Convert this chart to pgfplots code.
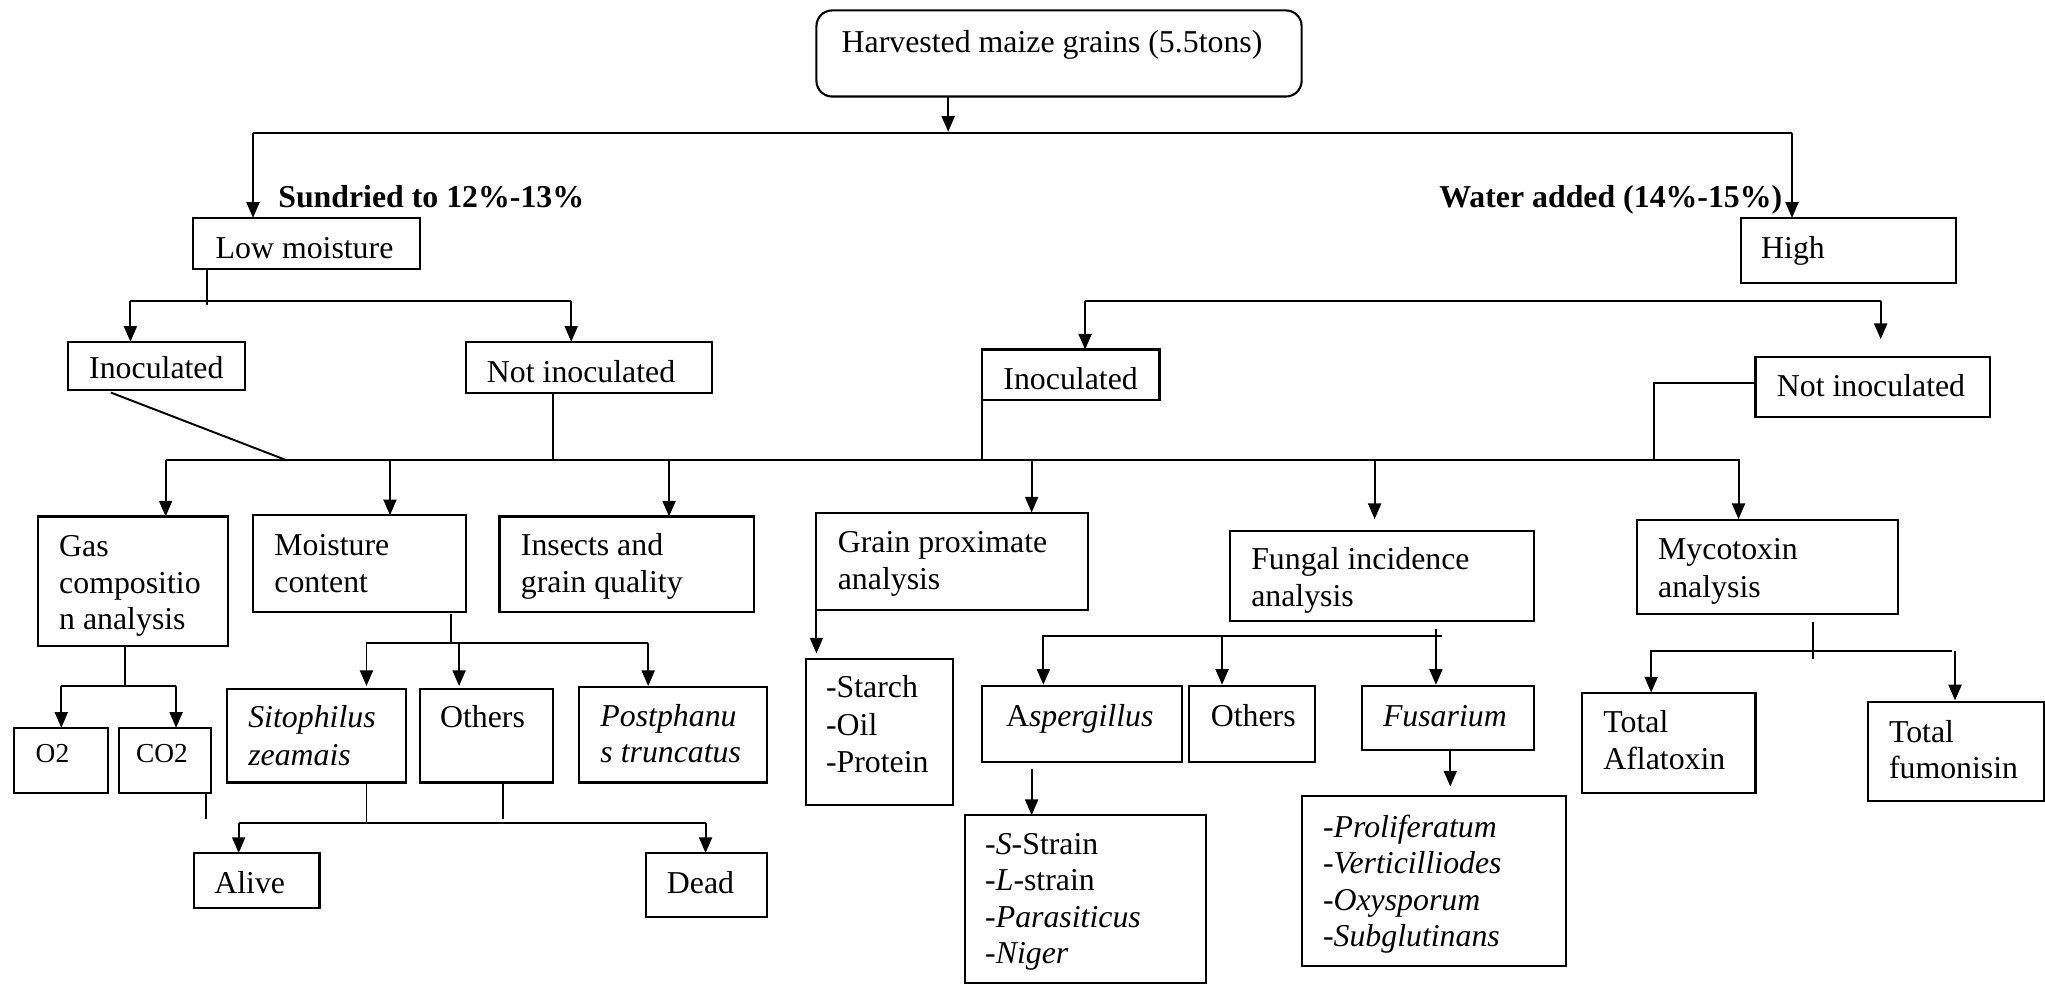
\documentclass[border=0pt]{standalone}
\usepackage{fontspec}
\setmainfont{Liberation Serif}
\usepackage{pgfplots}
\pgfplotsset{compat=1.18}
\usetikzlibrary{arrows.meta}
\newcommand{\bx}[4]{\draw[bxs] (#1,#2) rectangle (#3,#4);}
\newcommand{\tx}[3]{\node[t] at (#1,#2) {#3};}
\begin{document}
\begin{tikzpicture}[
  ln/.style={line width=0.75pt},
  ar/.style={line width=0.75pt,-{Triangle[length=6pt,width=5pt]}},
  bxs/.style={line width=0.8pt},
  t/.style={anchor=base west,inner sep=0pt,font=\fontsize{12.2}{14}\selectfont},
]
\begin{axis}[width=784pt,height=377.5pt,scale only axis,
  xmin=0,xmax=1568,ymin=0,ymax=755,y dir=reverse,
  axis lines=none,clip=false]
\addplot[draw=none] coordinates {(0,0) (1568,755)};
% top
\draw[bxs,rounded corners=6pt] (626,8) rectangle (998,74);
\tx{645}{40}{Harvested maize grains (5.5tons)}
\draw[ar] (727,74) -- (727,101);
\draw[ln] (194,102) -- (1374,102);
\draw[ar] (194,102) -- (194,167);
\draw[ar] (1374,102) -- (1374,167);
\node[t,font=\fontsize{12.2}{14}\selectfont\bfseries] at (213,159) {Sundried to 12\%-13\%};
\node[t,anchor=base east,font=\fontsize{12.2}{14}\selectfont\bfseries] at (1367,159) {Water added (14\%-15\%)};
% level 2
\bx{148}{167}{322}{206} \tx{165}{198}{Low moisture}
\bx{1335}{167}{1500}{217} \tx{1350}{198}{High}
\draw[ln] (159,206) -- (159,234);
\draw[ln] (100,231) -- (438,231);
\draw[ar] (100,231) -- (100,262);
\draw[ar] (438,231) -- (438,262);
\bx{52}{262}{188}{299} \tx{68}{290}{Inoculated}
\bx{357}{262}{546}{301} \tx{373}{293}{Not inoculated}
\draw[ln] (832,231) -- (1442,231);
\draw[ar] (832,231) -- (832,268);
\draw[ar] (1442,231) -- (1442,260);
\bx{753}{268}{889}{307} \tx{769}{299}{Inoculated}
\bx{1346}{274}{1526}{320} \tx{1362}{304}{Not inoculated}
\draw[ln] (1346,294) -- (1268,294) -- (1268,353);
\draw[ln] (753,307) -- (753,353);
\draw[ln] (85,301) -- (220,353);
\draw[ln] (424,301) -- (424,353);
\draw[ln] (127,353) -- (1334,353);
\draw[ar] (127,353) -- (127,396);
\draw[ar] (299,353) -- (299,395);
\draw[ar] (513,353) -- (513,396);
\draw[ar] (791,353) -- (791,393);
\draw[ar] (1054,353) -- (1054,398);
\draw[ar] (1333,353) -- (1333,398);
% level 3
\bx{29}{396}{175}{495} \tx{45}{427}{Gas} \tx{45}{455}{compositio} \tx{45}{483}{n analysis}
\bx{194}{395}{357}{469} \tx{210}{426}{Moisture} \tx{210}{454}{content}
\bx{383}{396}{578}{469} \tx{399}{426}{Insects and} \tx{399}{454}{grain quality}
\bx{626}{393}{834}{468} \tx{642}{424}{Grain proximate} \tx{642}{452}{analysis}
\bx{943}{407}{1176}{476} \tx{959}{437}{Fungal incidence} \tx{959}{465}{analysis}
\bx{1255}{399}{1455}{471} \tx{1271}{429}{Mycotoxin} \tx{1271}{458}{analysis}
% gas
\draw[ln] (96,495) -- (96,526);
\draw[ln] (47,526) -- (135,526);
\draw[ar] (47,526) -- (47,558);
\draw[ar] (135,526) -- (135,558);
\bx{11}{558}{83}{608} \node[t,font=\fontsize{10.5}{12}\selectfont] at (27,585) {O2};
\bx{91}{558}{162}{608} \node[t,font=\fontsize{10.5}{12}\selectfont] at (104,585) {CO2};
\draw[ln] (158,608) -- (158,628);
% moisture
\draw[ln] (346,471) -- (346,493);
\draw[ln] (281,493) -- (497,493);
\draw[ar] (281,493) -- (281,526);
\draw[ar] (352,493) -- (352,526);
\draw[ar] (497,493) -- (497,526);
\bx{174}{528}{311}{600} \tx{190}{558}{\textit{Sitophilus}} \tx{190}{587}{\textit{zeamais}}
\bx{322}{528}{424}{600} \tx{337}{558}{Others}
\bx{444}{527}{588}{600} \tx{460}{557}{\textit{Postphanu}} \tx{460}{585}{\textit{s truncatus}}
\draw[ln] (281,600) -- (281,631);
\draw[ln] (386,600) -- (386,628);
\draw[ln] (183,631) -- (541,631);
\draw[ar] (183,631) -- (183,654);
\draw[ar] (541,631) -- (541,654);
\bx{149}{654}{245}{696} \tx{164}{685}{Alive}
\bx{495}{654}{588}{703} \tx{511}{685}{Dead}
% grain proximate
\draw[ar] (626,468) -- (626,501);
\bx{618}{505}{731}{617} \tx{633}{535}{-Starch} \tx{633}{564}{-Oil} \tx{633}{592}{-Protein}
% fungal
\draw[ln] (799,488) -- (1106,488);
\draw[ln] (1101,482) -- (1101,488);
\draw[ar] (800,488) -- (800,525);
\draw[ar] (937,488) -- (937,525);
\draw[ar] (1101,488) -- (1101,525);
\bx{753}{526}{906}{584} \tx{771}{557}{A\textit{spergillus}}
\bx{912}{526}{1008}{584} \tx{928}{557}{Others}
\bx{1044}{526}{1176}{575} \tx{1060}{557}{\textit{Fusarium}}
\draw[ar] (791,590) -- (791,625);
\bx{740}{625}{925}{754}
\tx{755}{655}{-\textit{S}-Strain} \tx{755}{683}{-\textit{L}-strain} \tx{755}{711}{-\textit{Parasiticus}} \tx{755}{739}{-\textit{Niger}}
\draw[ar] (1112,575) -- (1112,603);
\bx{998}{610}{1201}{741}
\tx{1014}{642}{-\textit{Proliferatum}} \tx{1014}{670}{-\textit{Verticilliodes}} \tx{1014}{698}{-\textit{Oxysporum}} \tx{1014}{726}{-\textit{Subglutinans}}
% mycotoxin
\draw[ln] (1390,477) -- (1390,505);
\draw[ln] (1265,499) -- (1497,499);
\draw[ar] (1266,499) -- (1266,531);
\draw[ar] (1499,499) -- (1499,537);
\bx{1213}{531}{1346}{608} \tx{1229}{562}{Total} \tx{1229}{590}{Aflatoxin}
\bx{1432}{538}{1567}{614} \tx{1448}{569}{Total} \tx{1448}{597}{fumonisin}
\end{axis}
\end{tikzpicture}
\end{document}
